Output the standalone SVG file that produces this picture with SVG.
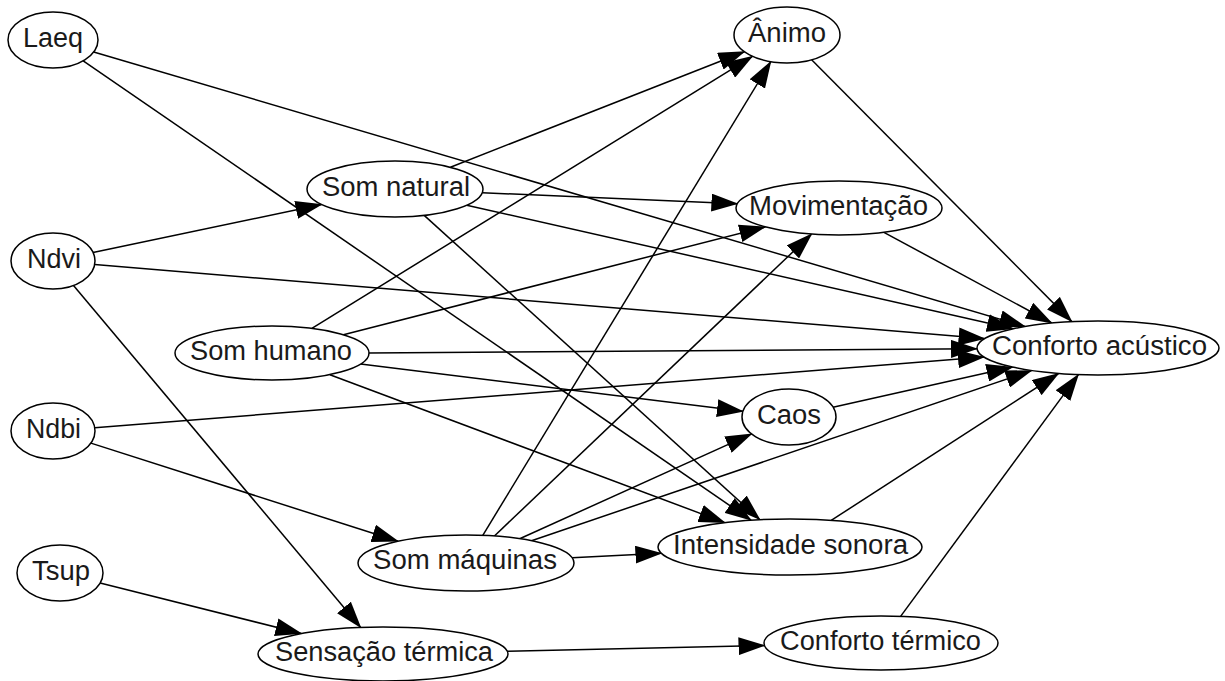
<svg xmlns="http://www.w3.org/2000/svg" width="1225" height="681" viewBox="0 0 1225 681">
<style>
.n ellipse{fill:#fff;stroke:#000;stroke-width:1.5}
.n text{font-family:"Liberation Sans",Arial,Helvetica,sans-serif;font-size:27px;fill:#1a1a1a;text-anchor:middle}
#edges line{stroke:#000;stroke-width:1.5;marker-end:url(#ah)}
</style>
<defs>
<marker id="ah" markerUnits="userSpaceOnUse" markerWidth="27" markerHeight="18" refX="26" refY="9" orient="auto">
<path d="M0,0 L27,9 L0,18 z" fill="#000"/>
</marker>
</defs>
<rect width="1225" height="681" fill="#fff"/>
<g id="edges">
<line x1="93.7" y1="52.0" x2="1025.0" y2="326.5"/>
<line x1="83.2" y1="60.8" x2="751.1" y2="520.2"/>
<line x1="93.0" y1="252.6" x2="321.6" y2="204.5"/>
<line x1="94.7" y1="264.5" x2="984.6" y2="338.6"/>
<line x1="73.5" y1="285.4" x2="360.7" y2="627.4"/>
<line x1="94.7" y1="427.7" x2="984.0" y2="357.1"/>
<line x1="90.9" y1="443.1" x2="398.0" y2="541.3"/>
<line x1="100.1" y1="583.1" x2="301.4" y2="633.5"/>
<line x1="450.4" y1="167.2" x2="744.5" y2="51.7"/>
<line x1="482.2" y1="192.7" x2="737.4" y2="203.7"/>
<line x1="466.7" y1="205.2" x2="1013.0" y2="328.8"/>
<line x1="424.2" y1="215.4" x2="759.9" y2="519.7"/>
<line x1="311.9" y1="328.4" x2="752.5" y2="56.3"/>
<line x1="343.4" y1="334.7" x2="765.3" y2="226.9"/>
<line x1="369.0" y1="353.0" x2="977.0" y2="348.7"/>
<line x1="360.6" y1="364.0" x2="743.0" y2="411.3"/>
<line x1="329.9" y1="374.7" x2="724.9" y2="522.6"/>
<line x1="482.8" y1="535.3" x2="770.8" y2="61.7"/>
<line x1="494.4" y1="536.0" x2="811.7" y2="234.0"/>
<line x1="519.7" y1="538.7" x2="751.6" y2="433.9"/>
<line x1="531.5" y1="540.7" x2="1031.6" y2="370.6"/>
<line x1="572.1" y1="557.8" x2="661.4" y2="553.3"/>
<line x1="507.3" y1="651.3" x2="764.5" y2="645.6"/>
<line x1="811.6" y1="59.8" x2="1071.8" y2="321.6"/>
<line x1="883.9" y1="232.3" x2="1051.8" y2="323.0"/>
<line x1="833.0" y1="407.2" x2="1012.5" y2="367.1"/>
<line x1="831.2" y1="520.4" x2="1058.5" y2="373.5"/>
<line x1="900.6" y1="616.4" x2="1078.4" y2="374.6"/>
</g>
<g id="laeq" class="n"><ellipse cx="53" cy="40" rx="45" ry="28"/><text x="53" y="47" textLength="60" lengthAdjust="spacingAndGlyphs">Laeq</text></g>
<g id="ndvi" class="n"><ellipse cx="53" cy="261" rx="42" ry="28"/><text x="54" y="268" textLength="54" lengthAdjust="spacingAndGlyphs">Ndvi</text></g>
<g id="ndbi" class="n"><ellipse cx="53" cy="431" rx="42" ry="28"/><text x="53.5" y="438" textLength="55" lengthAdjust="spacingAndGlyphs">Ndbi</text></g>
<g id="tsup" class="n"><ellipse cx="60" cy="573" rx="43" ry="28"/><text x="61" y="580" textLength="58" lengthAdjust="spacingAndGlyphs">Tsup</text></g>
<g id="som-natural" class="n"><ellipse cx="395" cy="189" rx="88" ry="28"/><text x="396" y="196" textLength="148" lengthAdjust="spacingAndGlyphs">Som natural</text></g>
<g id="som-humano" class="n"><ellipse cx="272" cy="353" rx="97" ry="27"/><text x="271" y="360" textLength="162" lengthAdjust="spacingAndGlyphs">Som humano</text></g>
<g id="som-maquinas" class="n"><ellipse cx="466" cy="563" rx="108" ry="28"/><text x="465" y="569" textLength="184" lengthAdjust="spacingAndGlyphs">Som máquinas</text></g>
<g id="sensacao-termica" class="n"><ellipse cx="383" cy="654" rx="125" ry="27"/><text x="384" y="661" textLength="218" lengthAdjust="spacingAndGlyphs">Sensação térmica</text></g>
<g id="animo" class="n"><ellipse cx="787" cy="35" rx="53" ry="28"/><text x="787" y="42" textLength="78" lengthAdjust="spacingAndGlyphs">Ânimo</text></g>
<g id="movimentacao" class="n"><ellipse cx="839" cy="208" rx="103" ry="27"/><text x="838.5" y="215" textLength="179" lengthAdjust="spacingAndGlyphs">Movimentação</text></g>
<g id="caos" class="n"><ellipse cx="789" cy="417" rx="47" ry="28"/><text x="789" y="424" textLength="64" lengthAdjust="spacingAndGlyphs">Caos</text></g>
<g id="intensidade-sonora" class="n"><ellipse cx="790" cy="547" rx="132" ry="28"/><text x="790.5" y="554" textLength="235" lengthAdjust="spacingAndGlyphs">Intensidade sonora</text></g>
<g id="conforto-termico" class="n"><ellipse cx="881" cy="643" rx="117" ry="27"/><text x="880.5" y="650" textLength="201" lengthAdjust="spacingAndGlyphs">Conforto térmico</text></g>
<g id="conforto-acustico" class="n"><ellipse cx="1098" cy="348" rx="121" ry="27"/><text x="1099.5" y="355" textLength="215" lengthAdjust="spacingAndGlyphs">Conforto acústico</text></g>
</svg>
